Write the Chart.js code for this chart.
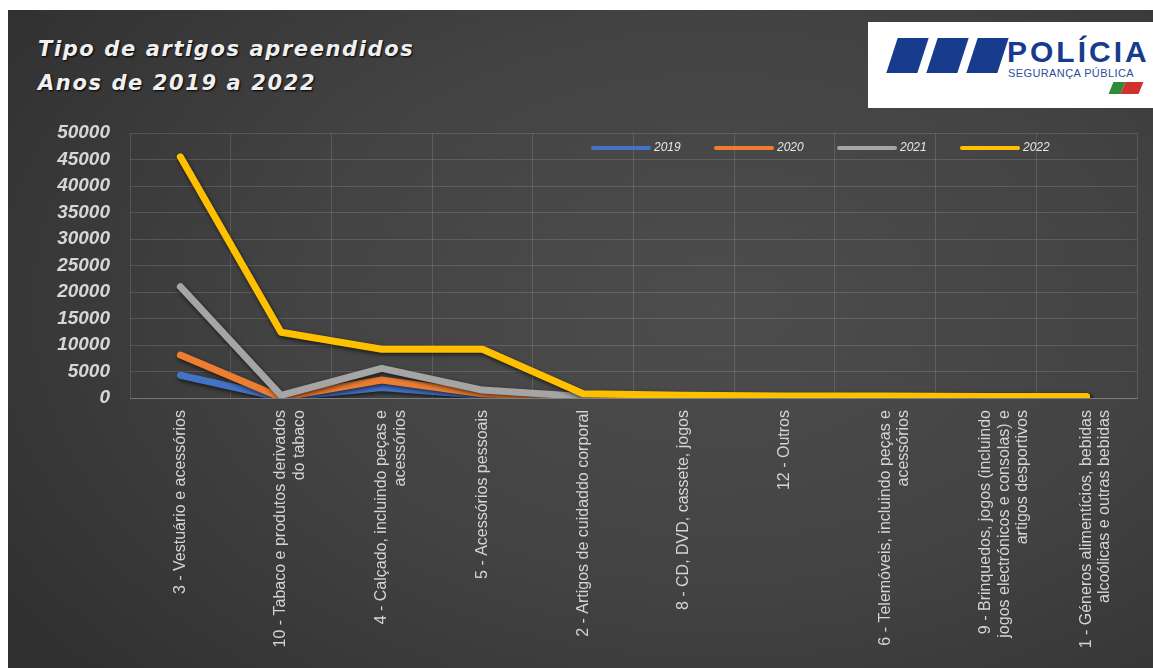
<!DOCTYPE html>
<html>
<head>
<meta charset="utf-8">
<script src="https://cdn.jsdelivr.net/npm/chart.js@4/dist/chart.umd.min.js"></script>
<style>
  body { margin: 0; background: #fff; width: 1153px; height: 668px; overflow: hidden; position: relative; }
  .panel { position: absolute; left: 8px; top: 10px; width: 1145px; height: 658px;
    background: radial-gradient(ellipse 75% 85% at 62% 45%, #4d4d4d 0%, #434343 50%, #303030 100%); }
  .title { position: absolute; left: 38px; top: 32px; color: #f0f0f0; font: italic bold 21px "DejaVu Sans", sans-serif;
    letter-spacing: 1.6px; line-height: 34px; text-shadow: 1px 1px 2px #000; }
  .logo { position: absolute; left: 868px; top: 22px; width: 285px; height: 86px; background: #fff; }
  .bar { position: absolute; top: 16px; width: 31px; height: 35px; background: #173b8d; transform: skewX(-18deg); }
  .pol { position: absolute; left: 139px; top: 13px; font: bold 30px "Liberation Sans", sans-serif; letter-spacing: 3px; color: #173b8d; }
  .seg { position: absolute; left: 140px; top: 45px; font: 11px "Liberation Sans", sans-serif; letter-spacing: 0.4px; color: #2b4f9a; }
  .flag { position: absolute; top: 60px; height: 12px; transform: skewX(-22deg); }
  #wrap { position: absolute; left: 8px; top: 10px; width: 1145px; height: 658px; }
</style>
</head>
<body>
<div class="panel"></div>
<div class="title">Tipo de artigos apreendidos<br>Anos de 2019 a 2022</div>
<div class="logo">
  <div class="bar" style="left:24px"></div>
  <div class="bar" style="left:64px"></div>
  <div class="bar" style="left:104px"></div>
  <div class="pol">POLÍCIA</div>
  <div class="seg">SEGURANÇA PÚBLICA</div>
  <div class="flag" style="left:243px;width:12px;background:#2e8b3a"></div>
  <div class="flag" style="left:255px;width:18px;background:#d0312d"></div>
</div>
<div id="wrap"><canvas id="myChart"></canvas></div>
<script>
var categories = [
  "3 - Vestuário e acessórios",
  ["10 - Tabaco e produtos derivados", "do tabaco"],
  ["4 - Calçado, incluindo peças e", "acessórios"],
  "5 - Acessórios pessoais",
  "2 - Artigos de cuidaddo corporal",
  "8 - CD, DVD, cassete, jogos",
  "12 - Outros",
  ["6 - Telemóveis, incluindo peças e", "acessórios"],
  ["9 - Brinquedos, jogos (incluindo", "jogos electrónicos e consolas) e", "artigos desportivos"],
  ["1 - Géneros alimentícios, bebidas", "alcoólicas e outras bebidas"]
];
var years = ["2019", "2020", "2021", "2022"];
var v2019 = [4300, 50, 2000, 500, 150, 50, 30, 20, 10, 10];
var v2020 = [8100, 100, 3400, 800, 200, 50, 30, 20, 10, 10];
var v2021 = [21000, 500, 5600, 1500, 300, 100, 50, 30, 20, 10];
var v2022 = [45500, 12400, 9200, 9200, 800, 500, 400, 400, 300, 300];
var lineColors = ["#4472C4", "#ED7D31", "#A5A5A5", "#FFC000"];

var series = [v2019, v2020, v2021, v2022];
var datasets = series.map(function (vals, i) {
  return {
    label: years[i],
    data: vals,
    borderColor: lineColors[i],
    backgroundColor: lineColors[i],
    borderWidth: 7,
    pointRadius: 0,
    tension: 0,
    borderCapStyle: "round",
    borderJoinStyle: "round",
    order: 3 - i
  };
});

// dark glow under the lines, like the original
var lineShadow = {
  id: "lineShadow",
  beforeDatasetDraw: function (chart) {
    var ctx = chart.ctx;
    ctx.save();
    ctx.shadowColor = "rgba(0,0,0,0.65)";
    ctx.shadowBlur = 4;
    ctx.shadowOffsetX = 1;
    ctx.shadowOffsetY = 2;
  },
  afterDatasetDraw: function (chart) {
    chart.ctx.restore();
  }
};

// legend drawn inside the plot, top right, one row
var innerLegend = {
  id: "innerLegend",
  afterDatasetsDraw: function (chart) {
    var ctx = chart.ctx, area = chart.chartArea;
    var y = area.top + 15;
    ctx.save();
    ctx.font = "italic 12px 'Liberation Sans'";
    ctx.textBaseline = "middle";
    chart.data.datasets.forEach(function (ds, i) {
      var x = area.right - 544 + i * 123;
      ctx.strokeStyle = ds.borderColor;
      ctx.lineWidth = 4;
      ctx.lineCap = "round";
      ctx.beginPath();
      ctx.moveTo(x, y);
      ctx.lineTo(x + 56, y);
      ctx.stroke();
      ctx.fillStyle = "#e6e6e6";
      ctx.fillText(ds.label, x + 61, y);
    });
    ctx.restore();
  }
};

var gridCol = "rgba(255,255,255,0.13)";

new Chart("myChart", {
  type: "line",
  data: { labels: categories, datasets: datasets },
  plugins: [lineShadow, innerLegend],
  options: {
    responsive: true,
    maintainAspectRatio: false,
    animation: false,
    layout: { padding: { top: 123, right: 16, left: 0, bottom: 0 } },
    plugins: {
      tooltip: { enabled: false },
      legend: { display: false }
    },
    scales: {
      x: {
        offset: true,
        grid: { color: gridCol, offset: true, drawTicks: false },
        border: { color: "rgba(255,255,255,0.2)" },
        afterFit: function (scale) { scale.height = 270; },
        ticks: {
          autoSkip: false,
          maxRotation: 90,
          minRotation: 90,
          padding: 12,
          color: "#d4d4d4",
          font: { family: "Liberation Sans", size: 16, lineHeight: 1.15 }
        }
      },
      y: {
        min: 0,
        max: 50000,
        grid: { color: gridCol, drawTicks: false },
        border: { display: false },
        afterFit: function (scale) { scale.width = 122; },
        ticks: {
          stepSize: 5000,
          autoSkip: false,
          padding: 20,
          color: "#d6d6d6",
          callback: function (v) { return String(v); },
          font: { family: "Liberation Sans", style: "italic", weight: "bold", size: 19, lineHeight: 1 }
        }
      }
    }
  }
});
</script>
</body>
</html>
